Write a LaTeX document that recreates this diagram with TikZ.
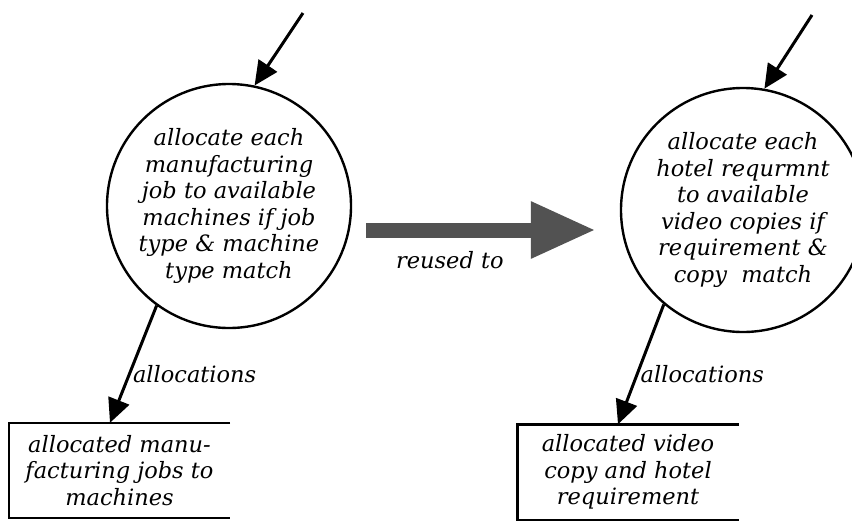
\documentclass[tikz,border=0pt]{standalone}
\usepackage{fontspec}
\setmainfont{DejaVu Serif}
\usepackage{tikz}
\usetikzlibrary{arrows.meta}

\begin{document}
\begin{tikzpicture}[x=1pt, y=-1pt, every node/.style={align=center, font=\itshape\fontsize{22.5}{26.5}\selectfont},
	process/.style={draw, circle, line width=2.4pt, minimum size=244pt, inner sep=0pt},
	store/.style={minimum width=221pt, minimum height=95pt, inner sep=0pt},
	flow/.style={line width=3pt, -{Triangle[length=24pt, width=22pt]}},
	reuse/.style={draw=black!68, line width=15pt, -{Triangle[length=65pt, width=53pt]}, shorten <=14pt, shorten >=24pt},
	flowlabel/.style={inner sep=2pt}]
		\useasboundingbox (0,0) rectangle (852,520);
		\node (alloc) at (229,206) [process] {allocate each\\manufacturing\\job to available\\machines if job\\type \& machine\\type match};
		\node (realloc) at (743,210) [process] {allocate each\\hotel requrmnt\\to available\\video copies if\\requirement \&\\copy\ \ match};
		\node (jobs) at (119.5,470.5) [store] {allocated manu-\\facturing jobs to\\machines};
		\node (copies) at (628,472) [store] {allocated video\\copy and hotel\\requirement};
		\coordinate (jobsin) at (303,13);
		\coordinate (hotelin) at (812,15);
		
		% data stores are open on the right
		\draw[line width=2.4pt] (jobs.north east) -- (jobs.north west) -- (jobs.south west) -- (jobs.south east);
		\draw[line width=2.4pt] (copies.north east) -- (copies.north west) -- (copies.south west) -- (copies.south east);
		
		\draw[flow] (jobsin) -- (alloc.78);
		\draw[flow] (hotelin) -- (realloc.80);
		\draw[flow] (alloc.234) -- ([xshift=-9.5pt]jobs.north) node[pos=0.58, right, flowlabel] {allocations};
		\draw[flow] (realloc.230) -- ([xshift=-10pt]copies.north) node[pos=0.58, right, flowlabel] {allocations};
		\draw[reuse] ([yshift=-24pt]alloc.east) -- ([yshift=-20pt]realloc.west) node[pos=0.365, below=12pt, flowlabel] {reused to};
\end{tikzpicture}
\end{document}
